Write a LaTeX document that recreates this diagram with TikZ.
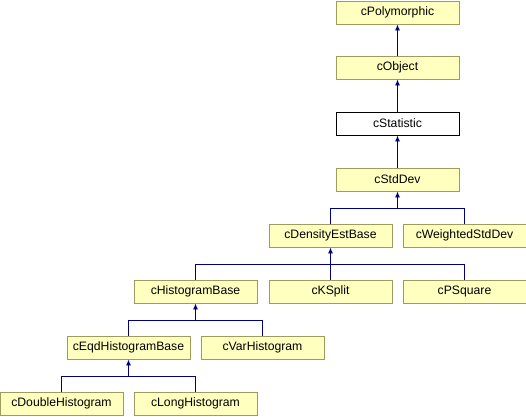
\documentclass[tikz,border=0pt]{standalone}
\usepackage{fontspec}
\setmainfont{Liberation Sans}
\usetikzlibrary{arrows.meta,calc}

\definecolor{boxfill}{HTML}{FFFFC0}
\definecolor{boxline}{HTML}{9C9C5C}
\definecolor{linkblue}{HTML}{000080}

\begin{document}
\begin{tikzpicture}[
    x=1pt,
    y=-1pt,
    line cap=butt,
    line join=miter,
    cls/.style={
        draw=boxline,
        fill=boxfill,
        line width=0.9pt,
        minimum width=123pt,
        minimum height=23pt,
        inner sep=0pt,
        font=\fontsize{12.2}{14}\selectfont
    },
    cur/.style={cls, draw=black, fill=white},
    link/.style={draw=linkblue, line width=0.9pt},
    inh/.style={link, -{Latex[length=6pt,width=5pt]}}
]

% =========================================================
% Рамка рисунка
% =========================================================

\useasboundingbox (0,0) rectangle (526,416);

% =========================================================
% Параметры
% =========================================================

\def\gap{17}    % расстояние от родителя до шины

% =========================================================
% Классы
% =========================================================

\node[cls] (poly)   at (397.5, 12.5) {cPolymorphic};
\node[cls] (object) at (397.5, 67.5) {cObject};
\node[cur] (stat)   at (397.5,123.5) {cStatistic};
\node[cls] (stddev) at (397.5,179.5) {cStdDev};

\node[cls] (dens)   at (330.5,235.5) {cDensityEstBase};
\node[cls] (wstd)   at (464.5,235.5) {cWeightedStdDev};

\node[cls] (hbase)  at (195.5,291.5) {cHistogramBase};
\node[cls] (ksplit) at (330.5,291.5) {cKSplit};
\node[cls] (psq)    at (464.5,291.5) {cPSquare};

\node[cls] (eqd)    at (128.5,347.5) {cEqdHistogramBase};
\node[cls] (varh)   at (262.5,347.5) {cVarHistogram};

\node[cls] (dbl)    at ( 61.5,403.5) {cDoubleHistogram};
\node[cls] (lng)    at (195.5,403.5) {cLongHistogram};

% =========================================================
% Шины наследования
% =========================================================

\coordinate (bstd)  at ($(stddev.south)+(0,\gap)$);
\coordinate (bdens) at ($(dens.south)+(0,\gap)$);
\coordinate (bhist) at ($(hbase.south)+(0,\gap)$);
\coordinate (beqd)  at ($(eqd.south)+(0,\gap)$);

% =========================================================
% Одиночное наследование
% =========================================================

\draw[inh] (object.north) -- (poly.south);
\draw[inh] (stat.north) -- (object.south);
\draw[inh] (stddev.north) -- (stat.south);

% =========================================================
% Наследники cStdDev
% =========================================================

\draw[link] (dens.north) |- (bstd);
\draw[link] (wstd.north) |- (bstd);
\draw[inh] (bstd) -- (stddev.south);

% =========================================================
% Наследники cDensityEstBase
% =========================================================

\draw[link] (hbase.north) |- (bdens);
\draw[link] (psq.north) |- (bdens);
\draw[link] (ksplit.north) -- (bdens);
\draw[inh] (bdens) -- (dens.south);

% =========================================================
% Наследники cHistogramBase
% =========================================================

\draw[link] (eqd.north) |- (bhist);
\draw[link] (varh.north) |- (bhist);
\draw[inh] (bhist) -- (hbase.south);

% =========================================================
% Наследники cEqdHistogramBase
% =========================================================

\draw[link] (dbl.north) |- (beqd);
\draw[link] (lng.north) |- (beqd);
\draw[inh] (beqd) -- (eqd.south);

\end{tikzpicture}
\end{document}
